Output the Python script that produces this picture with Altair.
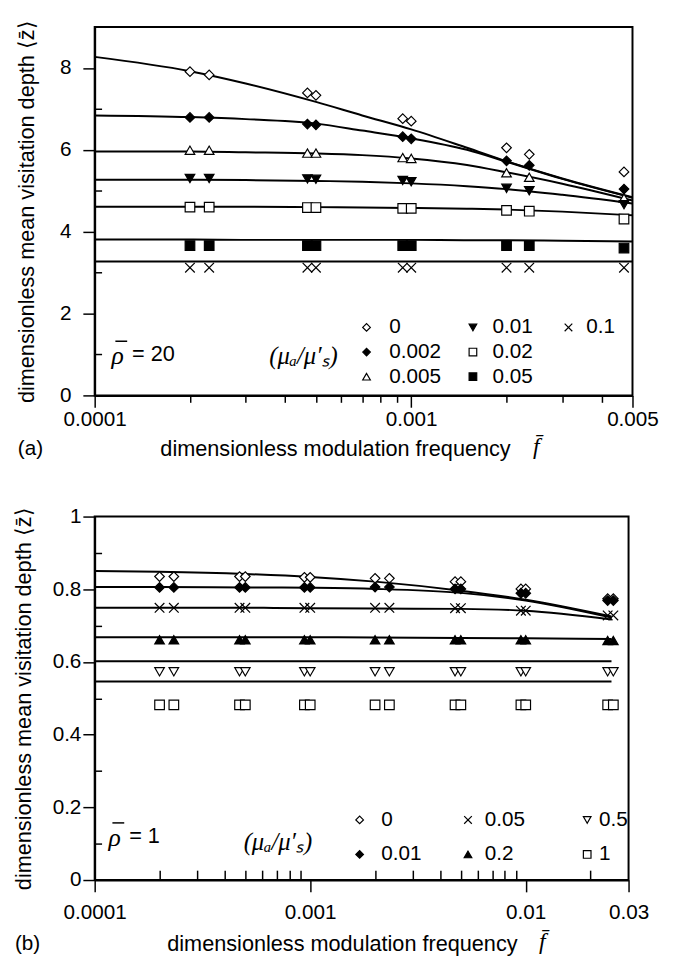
import altair as alt
import pandas as pd

SANS = "Liberation Sans"
SERIF = "Liberation Serif"
X_PATH = "M-1,-1L1,1M-1,1L1,-1"

# ------------------------------------------------------------------
# Panel (a): rho = 20
# ------------------------------------------------------------------
labels_a = ["0", "0.002", "0.005", "0.01", "0.02", "0.05", "0.1"]
shapes_a = ["diamond", "diamond", "triangle-up", "triangle-down", "square", "square", X_PATH]
fills_a = ["white", "black", "white", "black", "white", "black", "white"]

# measured points
f_pts_a = [0.0002, 0.00023, 0.00047, 0.0005, 0.00094, 0.001, 0.002, 0.00236, 0.0047]
z_a_0 = [7.91, 7.83, 7.39, 7.33, 6.76, 6.70, 6.05, 5.89, 5.46]
z_a_0002 = [6.79, 6.79, 6.63, 6.61, 6.32, 6.27, 5.73, 5.62, 5.04]
z_a_0005 = [5.99, 5.99, 5.92, 5.92, 5.81, 5.79, 5.44, 5.33, 4.82]
z_a_001 = [5.30, 5.30, 5.29, 5.28, 5.25, 5.22, 5.06, 5.00, 4.66]
z_a_002 = [4.60, 4.60, 4.59, 4.59, 4.57, 4.57, 4.52, 4.50, 4.31]
z_a_005 = [3.66, 3.66, 3.66, 3.66, 3.66, 3.66, 3.66, 3.66, 3.60]
z_a_01 = [3.12, 3.12, 3.12, 3.12, 3.12, 3.12, 3.12, 3.12, 3.12]

# theory curves
f_fit_a = [0.0001, 0.0002, 0.0003, 0.0005, 0.0007, 0.001, 0.0015, 0.002, 0.003, 0.005]
fit_a_0 = [8.27, 7.92, 7.62, 7.17, 6.84, 6.50, 6.05, 5.72, 5.30, 4.84]
fit_a_0002 = [6.84, 6.80, 6.75, 6.64, 6.47, 6.28, 6.00, 5.71, 5.29, 4.83]
fit_a_0005 = [5.96, 5.96, 5.94, 5.91, 5.87, 5.79, 5.63, 5.45, 5.17, 4.76]
fit_a_001 = [5.27, 5.27, 5.26, 5.24, 5.22, 5.18, 5.11, 5.04, 4.90, 4.69]
fit_a_002 = [4.61, 4.61, 4.61, 4.60, 4.59, 4.58, 4.56, 4.54, 4.49, 4.40]
fit_a_005 = [3.81, 3.81, 3.80, 3.80, 3.80, 3.80, 3.79, 3.79, 3.78, 3.76]
fit_a_01 = [3.27, 3.27, 3.27, 3.27, 3.27, 3.27, 3.27, 3.27, 3.27, 3.27]

xmajor_a = [0.0001, 0.001, 0.005]
xminor_a = [0.0002, 0.0003, 0.0004, 0.0005, 0.0006, 0.0007, 0.0008, 0.0009, 0.002, 0.003, 0.004]
ymajor_a = [0, 2, 4, 6, 8]
yminor_a = [1, 3, 5, 7]

# ------------------------------------------------------------------
# Panel (b): rho = 1
# ------------------------------------------------------------------
labels_b = ["0", "0.01", "0.05", "0.2", "0.5", "1"]
shapes_b = ["diamond", "diamond", X_PATH, "triangle-up", "triangle-down", "square"]
fills_b = ["white", "black", "white", "black", "white", "white"]

f_pts_b = [0.0002, 0.000233, 0.00047, 0.0005, 0.00094, 0.001, 0.002, 0.00233,
           0.0047, 0.005, 0.0095, 0.01, 0.024, 0.0255]
z_b_0 = [0.835, 0.835, 0.835, 0.835, 0.833, 0.833, 0.830, 0.830, 0.821, 0.821, 0.801, 0.801, 0.774, 0.774]
z_b_001 = [0.805, 0.805, 0.805, 0.805, 0.805, 0.805, 0.806, 0.806, 0.801, 0.801, 0.789, 0.789, 0.769, 0.769]
z_b_005 = [0.749, 0.749, 0.749, 0.749, 0.749, 0.749, 0.749, 0.749, 0.748, 0.748, 0.741, 0.741, 0.728, 0.728]
z_b_02 = [0.661, 0.661, 0.661, 0.661, 0.661, 0.661, 0.661, 0.661, 0.661, 0.661, 0.661, 0.661, 0.659, 0.659]
z_b_05 = [0.573, 0.573, 0.573, 0.573, 0.573, 0.573, 0.573, 0.573, 0.573, 0.573, 0.573, 0.573, 0.573, 0.573]
z_b_1 = [0.482, 0.482, 0.482, 0.482, 0.482, 0.482, 0.482, 0.482, 0.482, 0.482, 0.482, 0.482, 0.482, 0.482]

f_fit_b = [0.0001, 0.0002, 0.0005, 0.001, 0.002, 0.005, 0.01, 0.025]
fit_b_0 = [0.850, 0.848, 0.842, 0.834, 0.821, 0.796, 0.771, 0.725]
fit_b_001 = [0.806, 0.806, 0.805, 0.804, 0.801, 0.790, 0.769, 0.722]
fit_b_005 = [0.749, 0.749, 0.749, 0.748, 0.747, 0.746, 0.741, 0.717]
fit_b_02 = [0.668, 0.668, 0.668, 0.668, 0.667, 0.666, 0.665, 0.663]
fit_b_05 = [0.602, 0.602, 0.602, 0.602, 0.602, 0.602, 0.602, 0.602]
fit_b_1 = [0.546, 0.546, 0.546, 0.546, 0.546, 0.546, 0.546, 0.546]

xmajor_b = [0.0001, 0.001, 0.01, 0.03]
xminor_b = [0.0002, 0.0003, 0.0004, 0.0005, 0.0006, 0.0007, 0.0008, 0.0009,
            0.002, 0.003, 0.004, 0.005, 0.006, 0.007, 0.008, 0.009, 0.02]
ymajor_b = [0, 0.2, 0.4, 0.6, 0.8, 1]
yminor_b = [0.1, 0.3, 0.5, 0.7, 0.9]

Y_TITLE = "dimensionless mean visitation depth  \u27e8z\u0304\u27e9"
X_TITLE = "dimensionless modulation frequency"


def long_df(freqs, names, values):
    rows = []
    for name, vals in zip(names, values):
        for f, z in zip(freqs, vals):
            rows.append({"f": f, "z": z, "series": name})
    return pd.DataFrame(rows)


def txt(s, px, py, size=21, font=SANS, style="normal", align="left"):
    return alt.Chart(pd.DataFrame({"t": [s]})).mark_text(
        font=font, fontSize=size, fontStyle=style, align=align,
        baseline="middle", color="black"
    ).encode(x=alt.value(px), y=alt.value(py), text="t:N")


def bar(x1, x2, py):
    return alt.Chart(pd.DataFrame({"t": [0]})).mark_rule(
        color="black", strokeWidth=1.5
    ).encode(x=alt.value(x1), x2=alt.value(x2), y=alt.value(py))


def sym(shape, fill, px, py, size=60):
    return alt.Chart(pd.DataFrame({"t": [0]})).mark_point(
        shape=shape, filled=True, fill=fill, stroke="black", strokeWidth=1.2,
        opacity=1, size=size
    ).encode(x=alt.value(px), y=alt.value(py))


def panel(W, H, xdom, ydom, fits, pts, labels, shapes, fills,
          xmaj, xmin, ymaj, ymin, xmin_in, ylab_pad, xlab_pad,
          xtitle_x, xtitle_y, ytitle_x, legend_pos, extras):
    xs = alt.Scale(type="log", domain=xdom, nice=False)
    ys = alt.Scale(domain=ydom, nice=False, zero=False)
    common = dict(tickColor="black", tickWidth=1.5, grid=False)
    ax_x_major = alt.Axis(values=xmaj, format="~g", tickSize=12, labelFont=SANS,
                          labelFontSize=21, labelColor="black", labelPadding=xlab_pad,
                          labelOverlap=False, labelFlush=False,
                          domainColor="black", domainWidth=2,
                          title=X_TITLE, titleFont=SANS, titleFontSize=22,
                          titleFontWeight="normal", titleColor="black",
                          titleX=xtitle_x, titleY=xtitle_y, titleBaseline="middle",
                          orient="bottom", **common)
    ax_x_minor = alt.Axis(values=xmin, labels=False, tickSize=xmin_in[0],
                          offset=xmin_in[1], domain=False, title=None,
                          orient="bottom", **common)
    ax_y_major = alt.Axis(values=ymaj, format="~g", tickSize=12, labelFont=SANS,
                          labelFontSize=21, labelColor="black", labelPadding=ylab_pad,
                          labelOverlap=False, domainColor="black", domainWidth=2,
                          title=Y_TITLE, titleFont=SANS, titleFontSize=22,
                          titleFontWeight="normal", titleColor="black",
                          titleX=ytitle_x, titleY=H / 2, titleBaseline="middle",
                          orient="left", **common)
    ax_y_minor = alt.Axis(values=ymin, labels=False, tickSize=7, offset=-7,
                          domain=False, title=None, orient="left", **common)

    lines = alt.Chart(fits).mark_line(
        color="black", strokeWidth=2, interpolate="monotone"
    ).encode(
        x=alt.X("f:Q", scale=xs, axis=ax_x_major),
        y=alt.Y("z:Q", scale=ys, axis=ax_y_major),
        detail="series:N",
    )
    points = alt.Chart(pts).mark_point(
        filled=True, stroke="black", strokeWidth=1.2, opacity=1, size=95
    ).encode(
        x=alt.X("f:Q", scale=xs, axis=ax_x_minor),
        y=alt.Y("z:Q", scale=ys, axis=ax_y_minor),
        shape=alt.Shape("series:N", scale=alt.Scale(domain=labels, range=shapes), legend=None),
        fill=alt.Fill("series:N", scale=alt.Scale(domain=labels, range=fills), legend=None),
    )
    layers = [lines, points]
    for (lab, shp, fil, (mx, my, tx)) in zip(labels, shapes, fills, legend_pos):
        layers.append(sym(shp, fil, mx, my))
        layers.append(txt(lab, tx, my))
    layers.extend(extras)
    return alt.layer(*layers).resolve_axis(x="independent", y="independent").properties(
        width=W, height=H
    )


MU_TXT = "(\u03bc\u2090/\u03bc\u2032\u209b)"

# ---------------- panel (a) ----------------
WA, HA = 546, 374
fits_a = long_df(f_fit_a, labels_a, [fit_a_0, fit_a_0002, fit_a_0005, fit_a_001,
                                     fit_a_002, fit_a_005, fit_a_01])
pts_a = long_df(f_pts_a, labels_a, [z_a_0, z_a_0002, z_a_0005, z_a_001,
                                    z_a_002, z_a_005, z_a_01])
rows_a = [305, 330, 355]
legpos_a = [
    (276, rows_a[0], 299), (276, rows_a[1], 299), (276, rows_a[2], 299),
    (384, rows_a[0], 404), (384, rows_a[1], 404), (384, rows_a[2], 404),
    (481, rows_a[0], 499),
]
extras_a = [
    txt(MU_TXT, 212, 334, size=25, font=SERIF, style="italic", align="center"),
    txt("\u03c1", 17, 334, size=26, font=SERIF, style="italic"),
    bar(21, 33, 319),
    txt("= 20", 38, 332, size=22),
    txt("(a)", -78, HA + 54, size=21),
    txt("f\u0304", 445, HA + 52, size=24, font=SERIF, style="italic"),
]
chart_a = panel(WA, HA, [0.0001, 0.005], [0, 9], fits_a, pts_a, labels_a, shapes_a, fills_a,
                xmajor_a, xminor_a, ymajor_a, yminor_a, (7, 0), 12, 2,
                244, 54, -69, legpos_a, extras_a)

# ---------------- panel (b) ----------------
WB, HB = 542, 369
fits_b = long_df(f_fit_b, labels_b, [fit_b_0, fit_b_001, fit_b_005, fit_b_02, fit_b_05, fit_b_1])
pts_b = long_df(f_pts_b, labels_b, [z_b_0, z_b_001, z_b_005, z_b_02, z_b_05, z_b_1])
rows_b = [308, 343]
legpos_b = [
    (269, rows_b[0], 291), (269, rows_b[1], 291),
    (379, rows_b[0], 396), (379, rows_b[1], 396),
    (500, rows_b[0], 512), (500, rows_b[1], 512),
]
extras_b = [
    txt(MU_TXT, 186, 331, size=25, font=SERIF, style="italic", align="center"),
    txt("\u03c1", 14, 326, size=26, font=SERIF, style="italic"),
    bar(18, 30, 311),
    txt("= 1", 35, 324, size=22),
    txt("(b)", -81, HB + 65, size=21),
    txt("f\u0304", 451, HB + 63, size=24, font=SERIF, style="italic"),
]
chart_b = panel(WB, HB, [0.0001, 0.03], [0, 1], fits_b, pts_b, labels_b, shapes_b, fills_b,
                xmajor_b, xminor_b, ymajor_b, yminor_b, (10, -10), 2, 10,
                251, 65, -72, legpos_b, extras_b)

chart = alt.vconcat(chart_a, chart_b, spacing=43).resolve_scale(
    shape="independent", fill="independent"
).configure(
    padding={"left": 3, "top": 0, "right": 5, "bottom": 5},
    font=SANS,
).configure_view(stroke="black", strokeWidth=2)

chart.save("out.html", embed_options={"renderer": "svg", "actions": False})
